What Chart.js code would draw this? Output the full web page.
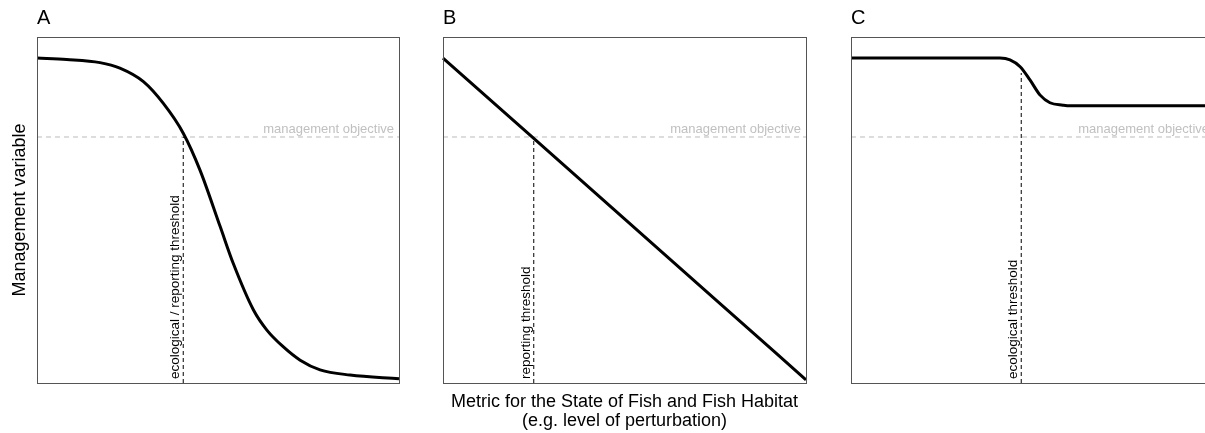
<!DOCTYPE html>
<html><head><meta charset="utf-8">
<script src="https://cdn.jsdelivr.net/npm/chart.js@4"></script>
<style>
html,body{margin:0;padding:0;background:#fff;width:1205px;height:433px;overflow:hidden;position:relative}
canvas{position:absolute;top:0}
</style></head><body>
<canvas id="cA" style="left:0px" width="420" height="433"></canvas>
<canvas id="cB" style="left:420px" width="420" height="433"></canvas>
<canvas id="cC" style="left:830px" width="400" height="433"></canvas>
<script>
// Panel A: sigmoid decline
const aX = [0, 8.2, 17.4, 22.9, 29.4, 34.9, 40.4, 45.0, 50.6, 54.2, 59.8, 63.5, 68.0, 72.7, 78.2, 86.5, 100];
const aY = [93.9, 93.5, 92.6, 91.0, 87.1, 80.8, 72.2, 61.6, 45.2, 34.6, 21.1, 15.3, 10.5, 6.6, 3.8, 2.3, 1.2];
// Panel B: linear decline
const bX = [0, 25, 50, 75, 100];
const bY = [93.9, 70.7, 47.4, 24.2, 0.9];
// Panel C: step decline
const cX = [0, 41.0, 43.8, 46.6, 49.3, 52.1, 54.8, 58.4, 60.3, 100];
const cY = [93.9, 93.9, 93.4, 91.4, 87.6, 83.2, 81.0, 80.3, 80.1, 80.1];

const objective = 71.1;
const thresholdA = 40.4, thresholdB = 25.0, thresholdC = 46.9;
const thresholdTopC = 89.6;
const panelTitles = ["A", "B", "C"];
const thresholdLabels = ["ecological / reporting threshold", "reporting threshold", "ecological threshold"];
const objectiveLabel = "management objective";
const yTitle = "Management variable";
const xTitle = ["Metric for the State of Fish and Fish Habitat", "(e.g. level of perturbation)"];

const FONT = "'Liberation Sans', Arial, sans-serif";

function pts(xs, ys){ return xs.map((x,i)=>({x:x, y:ys[i]})); }

function makePanel(id, xs, ys, thr, thrTop, idx, pad, extra){
  const annot = {
    id:'annot'+idx,
    afterDraw(chart){
      const ctx = chart.ctx, a = chart.chartArea, sx = chart.scales.x, sy = chart.scales.y;
      ctx.save();
      // frame
      ctx.strokeStyle = '#555'; ctx.lineWidth = 1;
      ctx.strokeRect(Math.round(a.left)+0.5, Math.round(a.top)+0.5, Math.round(a.right-a.left), Math.round(a.bottom-a.top));
      // panel letter
      ctx.fillStyle = '#000'; ctx.font = '20px ' + FONT; ctx.textAlign='left'; ctx.textBaseline='alphabetic';
      ctx.fillText(panelTitles[idx], a.left, 24);
      // objective label
      ctx.fillStyle = '#c0c0c0'; ctx.font = '13px ' + FONT; ctx.textAlign='right';
      ctx.fillText(objectiveLabel, a.right - 5, sy.getPixelForValue(objective) - 4);
      // threshold label rotated
      ctx.save();
      ctx.translate(sx.getPixelForValue(thr) - 4, a.bottom - 4);
      ctx.rotate(-Math.PI/2);
      ctx.fillStyle = '#000'; ctx.font = '13.5px ' + FONT; ctx.textAlign='left'; ctx.textBaseline='alphabetic';
      ctx.fillText(thresholdLabels[idx], 0, 0);
      ctx.restore();
      if (extra) extra(ctx, a);
      ctx.restore();
    }
  };
  return new Chart(document.getElementById(id), {
    type:'line',
    data:{datasets:[
      {data: pts(xs, ys), borderColor:'#000', borderWidth:3, pointRadius:0, cubicInterpolationMode:'monotone', order:0},
      {data: [{x:0,y:objective},{x:100,y:objective}], borderColor:'#bbbbbb', borderWidth:1, borderDash:[5,4], pointRadius:0, order:2},
      {data: [{x:thr,y:0},{x:thr,y:thrTop}], borderColor:'#000', borderWidth:1, borderDash:[4,3], pointRadius:0, order:1}
    ]},
    options:{
      responsive:false, animation:false, events:[],
      layout:{padding:pad},
      plugins:{legend:{display:false}, tooltip:{enabled:false}, title:{display:false}},
      scales:{
        x:{type:'linear', min:0, max:100, display:false},
        y:{type:'linear', min:0, max:100, display:false}
      },
      clip:false
    },
    plugins:[annot]
  });
}

makePanel('cA', aX, aY, thresholdA, objective, 0, {left:37, top:37, right:21, bottom:50}, (ctx,a)=>{
  ctx.save();
  ctx.translate(25, 210);
  ctx.rotate(-Math.PI/2);
  ctx.fillStyle='#000'; ctx.font='18px ' + FONT; ctx.textAlign='center'; ctx.textBaseline='alphabetic';
  ctx.fillText(yTitle, 0, 0);
  ctx.restore();
});
makePanel('cB', bX, bY, thresholdB, objective, 1, {left:23, top:37, right:34, bottom:50}, (ctx,a)=>{
  ctx.fillStyle='#000'; ctx.font='18px ' + FONT; ctx.textAlign='center'; ctx.textBaseline='alphabetic';
  const cx = (a.left + a.right)/2;
  ctx.fillText(xTitle[0], cx, 407);
  ctx.fillText(xTitle[1], cx, 426);
});
makePanel('cC', cX, cY, thresholdC, thresholdTopC, 2, {left:21, top:37, right:16, bottom:50}, null);
</script>
</body></html>
